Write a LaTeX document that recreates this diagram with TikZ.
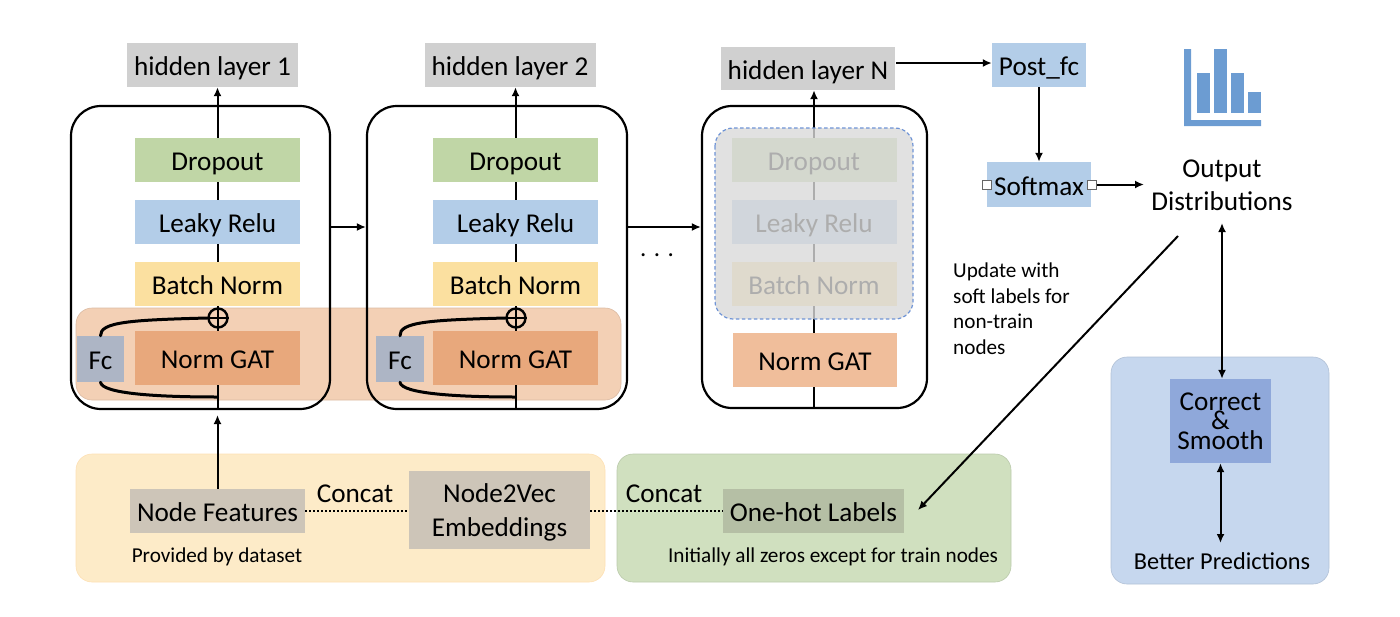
\documentclass[tikz,border=0pt]{standalone}
\usepackage{fontspec}
\setmainfont{Carlito}
\usetikzlibrary{arrows.meta}
\pgfdeclarelayer{back}
\pgfdeclarelayer{lines}
\pgfsetlayers{back,lines,main}
\definecolor{cdrop}{HTML}{C0D6A6}
\definecolor{cleak}{HTML}{B3CDE8}
\definecolor{cbatch}{HTML}{FBE0A0}
\definecolor{cgat}{HTML}{E8A87C}
\definecolor{cgatn}{HTML}{F0BE9B}
\definecolor{cband}{HTML}{F3D0B5}
\definecolor{cfc}{HTML}{ADB5C5}
\definecolor{chid}{HTML}{D0D0D0}
\definecolor{cyel}{HTML}{FDEBC8}
\definecolor{cgre}{HTML}{D0E0BF}
\definecolor{cblu}{HTML}{C6D7EE}
\definecolor{ccor}{HTML}{8FA8DA}
\definecolor{cnf}{HTML}{CDC5B8}
\definecolor{cone}{HTML}{B5BFA5}
\definecolor{cicon}{HTML}{6C9CD2}
\definecolor{cdash}{HTML}{6F94D6}
\tikzset{
  x=1pt,y=-1pt,
  lab/.style={font=\fontsize{27.2}{33.5}\selectfont,text=black,align=center,inner sep=0pt},
  small/.style={font=\fontsize{21.2}{25.5}\selectfont,text=black,inner sep=0pt},
  box/.style 2 args={lab,minimum width=#1,minimum height=#2,draw=none},
  oneline/.style={text height=21pt,text depth=0pt},
  layerbox/.style={box={165pt}{44pt},oneline},
  hid/.style={box={171pt}{44pt},fill=chid,oneline},
  cell/.style={draw=black,line width=2.2pt,rounded corners=30pt,fill=none},
  zone/.style={rounded corners=16pt,line width=0.6pt},
  conn/.style={draw=black,line width=2pt},
  arr/.style={conn,-{Latex[length=9pt,width=8pt]}},
  dbl/.style={conn,{Latex[length=9pt,width=8pt]}-{Latex[length=9pt,width=8pt]}},
  curve/.style={draw=black,line width=3pt,line cap=round},
  handle/.style={draw=black!60,fill=white,line width=1pt,minimum size=9pt,inner sep=0pt},
  dotline/.style={draw=black,line width=1.6pt,dash pattern=on 1.6pt off 2.4pt},
  bar/.style={fill=cicon,draw=none},
}
\begin{document}
\begin{tikzpicture}
\path[use as bounding box] (0,0) rectangle (1400,616);
% zones
\begin{pgfonlayer}{back}
\path[zone,fill=cband,draw=cband!90!black] (76,308) rectangle (621,400);
\path[zone,fill=cyel,draw=cyel!90!orange] (76,454) rectangle (605,582);
\path[zone,fill=cgre,draw=cgre!90!black] (617,454) rectangle (1011,582);
\path[zone,fill=cblu,draw=cblu!90!black] (1111,357) rectangle (1329,584);
\end{pgfonlayer}
% cells
\node[cell,minimum width=259pt,minimum height=303pt,inner sep=0pt] (c1) at (200.5,257.5) {};
\node[cell,minimum width=260pt,minimum height=303pt,inner sep=0pt] (c2) at (497,257.5) {};
\node[cell,minimum width=225pt,minimum height=302pt,inner sep=0pt] (cN) at (814.5,257) {};
% hidden
\node[hid] (h1) at (212.5,65) {hidden layer 1};
\node[hid] (h2) at (510,65) {hidden layer 2};
\node[box={174pt}{43pt},fill=chid,oneline] (hN) at (808,68.5) {hidden layer N};
% column 1
\node[layerbox,fill=cdrop] (d1) at (217.5,159.5) {Dropout};
\node[layerbox,fill=cleak] (l1) at (217.5,222) {Leaky Relu};
\node[layerbox,fill=cbatch] (b1) at (217.5,283.5) {Batch Norm};
\node[box={165pt}{54pt},fill=cgat,oneline] (g1) at (217.5,358) {Norm GAT};
\node[box={47pt}{46pt},fill=cfc,oneline] (f1) at (100.5,359) {Fc};
\node[draw=black,line width=2.4pt,circle,minimum size=19pt,inner sep=0pt] (p1) at (218,318) {};
% column 2
\node[layerbox,fill=cdrop] (d2) at (515.5,159.5) {Dropout};
\node[layerbox,fill=cleak] (l2) at (515.5,222) {Leaky Relu};
\node[layerbox,fill=cbatch] (b2) at (515.5,283.5) {Batch Norm};
\node[box={165pt}{54pt},fill=cgat,oneline] (g2) at (515.5,358) {Norm GAT};
\node[box={48pt}{46pt},fill=cfc,oneline] (f2) at (400,359) {Fc};
\node[draw=black,line width=2.4pt,circle,minimum size=19pt,inner sep=0pt] (p2) at (516,318) {};
% column N
\node[layerbox,fill=cdrop] (dN) at (814,160) {Dropout};
\node[layerbox,fill=cleak] (lN) at (814,222) {Leaky Relu};
\node[layerbox,fill=cbatch] (bN) at (814,284) {Batch Norm};
\node[box={164pt}{54pt},fill=cgatn,oneline] (gN) at (815,360) {Norm GAT};
\path[fill=black!15,fill opacity=0.8,draw=cdash,draw opacity=1,line width=1.2pt,dash pattern=on 3.5pt off 2.5pt,rounded corners=18pt] (715,128) rectangle (913,319);
% right column
\node[box={94pt}{44pt},fill=cleak,oneline] (post) at (1039,65) {Post\_fc};
\node[box={104pt}{45pt},fill=cleak,oneline] (soft) at (1039,184.5) {Softmax};
\node[handle] (hl) at (987,184.5) {};
\node[handle] (hr) at (1091.5,184.5) {};
\node[lab] (out) at (1222,185.5) {Output\\Distributions};
\node[box={101pt}{84pt},fill=ccor,font=\fontsize{27.2}{19.5}\selectfont] (cs) at (1220.5,421) {Correct\\\&\\Smooth};
\node[lab,font=\fontsize{24.3}{28}\selectfont] (bp) at (1222,561) {Better Predictions};
% icon
\path[bar] (1184,49) -- (1191,49) -- (1191,120) -- (1261,120) -- (1261,126) -- (1184,126) -- cycle;
\path[bar] (1197,73) rectangle (1210,113);
\path[bar] (1214,49) rectangle (1227,113);
\path[bar] (1231,73) rectangle (1244,113);
\path[bar] (1248,92) rectangle (1261,113);
% bottom
\node[box={175pt}{44pt},fill=cnf,oneline] (nf) at (217.5,511) {Node Features};
\node[box={181pt}{78pt},fill=cnf,font=\fontsize{27.2}{34.5}\selectfont,text depth=0pt] (n2v) at (499.5,510) {Node2Vec\\Embeddings};
\node[box={181pt}{44pt},fill=cone,oneline] (oh) at (813.5,511) {One-hot Labels};
\node[lab] (cc1) at (355,494) {Concat};
\node[lab] (cc2) at (664,494) {Concat};
\node[small] (pd) at (217,556.5) {Provided by dataset};
\node[small] (iz) at (833,556.5) {Initially all zeros except for train nodes};
\node[small,align=left,anchor=north west] (up) at (953,263) {Update with\\soft labels for\\non-train\\nodes};
\node[lab,font=\fontsize{25}{25}\selectfont] (dots) at (657,255) {. . .};
% free ends
\coordinate (nfup) at (217.5,415);
\coordinate (c1b) at (217.5,409);
\coordinate (c2b) at (515.5,409);
\coordinate (cNb) at (814,408);
\coordinate (t1) at (217.5,397);
\coordinate (t2) at (515.5,397);
\coordinate (diagS) at (1178,236);
\coordinate (diagE) at (918,510);
\coordinate (outS) at (1222,223);
\coordinate (bpN) at (1220.5,543);
\coordinate (midy) at (0,227);
% connectors under the boxes
\begin{pgfonlayer}{lines}
\draw[arr] (d1.center) -- (h1.south -| d1.center);
\draw[conn] (g1.center) -- (d1.center);
\draw[conn] (c1b) -- (g1.center);
\draw[arr] (d2.center) -- (h2.south -| d2.center);
\draw[conn] (g2.center) -- (d2.center);
\draw[conn] (c2b) -- (g2.center);
\draw[arr] (dN.center) -- (hN.south -| dN.center);
\draw[conn] (gN.center -| dN.center) -- (dN.center);
\draw[conn] (cNb) -- (gN.center -| cNb);
\end{pgfonlayer}
% connectors over the boxes
\draw[arr] (nf.north) -- (nfup);
\draw[draw=black,line width=1.6pt] (p1.north) -- (p1.south);
\draw[draw=black,line width=1.6pt] (p1.west) -- (p1.east);
\draw[draw=black,line width=1.6pt] (p2.north) -- (p2.south);
\draw[draw=black,line width=1.6pt] (p2.west) -- (p2.east);
\draw[curve] (f1.north) .. controls (100,322) and (130,320) .. (p1.west);
\draw[curve] (f1.south) .. controls (102,394) and (160,397) .. (t1);
\draw[curve] (f2.north) .. controls (399,322) and (430,320) .. (p2.west);
\draw[curve] (f2.south) .. controls (401,394) and (460,397) .. (t2);
\draw[arr] (c1.east |- midy) -- (c2.west |- midy);
\draw[arr] (c2.east |- midy) -- (cN.west |- midy);
\draw[arr] (hN.east) ++(1,-5.5) -- (post.west |- 0,63);
\draw[arr] (post.south) -- (soft.north);
\draw[arr] (hr.east) -- (1144,184.5);
\draw[arr] (diagS) -- (diagE);
\draw[dbl] (outS) -- (outS |- cs.north);
\draw[dbl] (cs.south) -- (bpN);
\draw[dotline] (nf.east) -- (n2v.west |- nf.east);
\draw[dotline] (n2v.east |- oh.west) -- (oh.west);
\end{tikzpicture}
\end{document}
